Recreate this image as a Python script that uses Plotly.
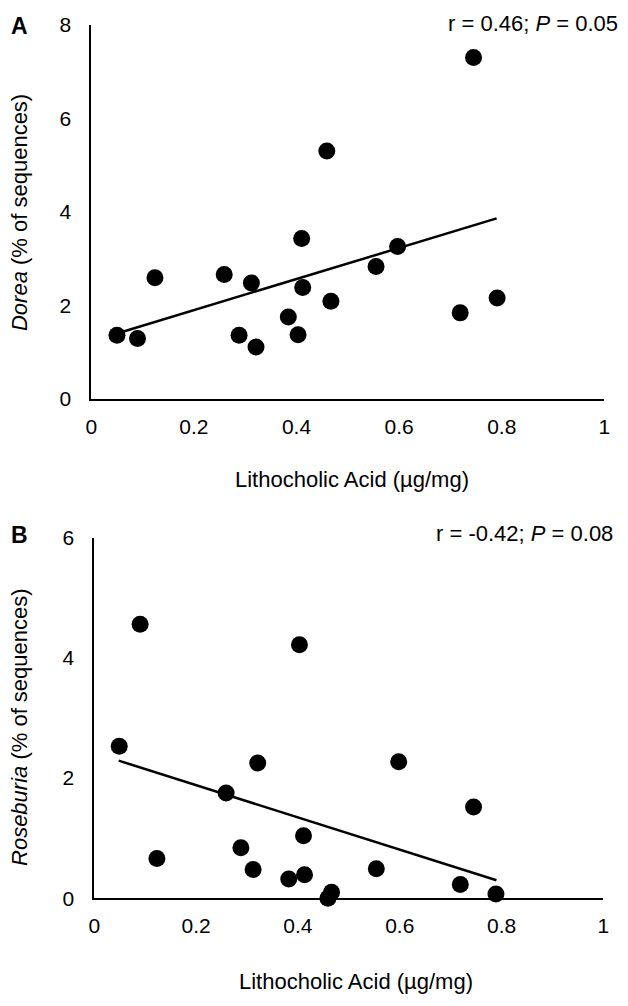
import plotly.graph_objects as go

# Shared x values (Lithocholic acid, µg/mg)
lca = [0.050, 0.090, 0.124, 0.259, 0.288, 0.312, 0.321, 0.384, 0.403,
       0.410, 0.412, 0.459, 0.467, 0.555, 0.597, 0.719, 0.745, 0.791]
# Panel A: Dorea (% of sequences)
dorea = [1.36, 1.29, 2.59, 2.66, 1.36, 2.48, 1.11, 1.75, 1.37,
         3.43, 2.38, 5.30, 2.09, 2.83, 3.26, 1.84, 7.30, 2.16]
# Panel B: Roseburia (% of sequences)
lca_b = [0.049, 0.090, 0.123, 0.259, 0.288, 0.312, 0.321, 0.382, 0.403,
         0.411, 0.413, 0.459, 0.466, 0.554, 0.598, 0.719, 0.745, 0.789]
roseburia = [2.53, 4.56, 0.66, 1.75, 0.84, 0.48, 2.25, 0.32, 4.22,
             1.04, 0.39, 0.00, 0.10, 0.49, 2.27, 0.23, 1.52, 0.07]
# Trend lines
trend_a_x = [0.05, 0.79]
trend_a_y = [1.40, 3.86]
trend_b_x = [0.048, 0.79]
trend_b_y = [2.29, 0.30]

x_ticks = [0, 0.2, 0.4, 0.6, 0.8, 1]
x_ticktext = ["0", "0.2", "0.4", "0.6", "0.8", "1"]
y_ticks_a = [0, 2, 4, 6, 8]
y_ticks_b = [0, 2, 4, 6]

W, H = 628, 1006
FONT = "Liberation Sans, Arial, sans-serif"
FS_TICK = 21
FS = 22

fig = go.Figure()
fig.add_trace(go.Scatter(x=trend_a_x, y=trend_a_y, mode="lines",
                         line=dict(color="black", width=2.5), xaxis="x", yaxis="y",
                         showlegend=False, cliponaxis=False))
fig.add_trace(go.Scatter(x=lca, y=dorea, mode="markers",
                         marker=dict(color="black", size=17), xaxis="x", yaxis="y",
                         showlegend=False, cliponaxis=False))
fig.add_trace(go.Scatter(x=trend_b_x, y=trend_b_y, mode="lines",
                         line=dict(color="black", width=2.5), xaxis="x2", yaxis="y2",
                         showlegend=False, cliponaxis=False))
fig.add_trace(go.Scatter(x=lca_b, y=roseburia, mode="markers",
                         marker=dict(color="black", size=17), xaxis="x2", yaxis="y2",
                         showlegend=False, cliponaxis=False))

def px_x(v):
    return v / W

def px_y(v):
    return 1 - v / H

xcommon = dict(range=[0, 1], tickvals=x_ticks, ticktext=x_ticktext, showgrid=False,
               zeroline=False, showline=True, linecolor="black", linewidth=2,
               ticks="", ticklabelstandoff=8, tickfont=dict(size=FS_TICK, color="black"))
ycommon = dict(showgrid=False, zeroline=False, showline=True, linecolor="black",
               linewidth=2, ticks="", ticklabelstandoff=14,
               tickfont=dict(size=FS_TICK, color="black"))

fig.update_layout(
    width=W, height=H, autosize=False,
    margin=dict(l=0, r=0, t=0, b=0),
    paper_bgcolor="white", plot_bgcolor="white",
    font=dict(family=FONT, size=FS, color="black"),
    xaxis=dict(domain=[px_x(87), px_x(610)], anchor="y", **xcommon),
    yaxis=dict(domain=[px_y(396), px_y(13)], anchor="x", range=[0, 8],
               tickvals=y_ticks_a, **ycommon),
    xaxis2=dict(domain=[px_x(90), px_x(609)], anchor="y2", **xcommon),
    yaxis2=dict(domain=[px_y(907), px_y(538)], anchor="x2", range=[0, 6],
                tickvals=y_ticks_b, **ycommon),
    showlegend=False,
)

ann = []
def add(text, x, y, xanchor="center", yanchor="middle", angle=0, size=FS, bold=False):
    if bold:
        text = "<b>" + text + "</b>"
    ann.append(dict(text=text, x=px_x(x), y=px_y(y), xref="paper", yref="paper",
                    xanchor=xanchor, yanchor=yanchor, textangle=angle, showarrow=False,
                    font=dict(size=size, family=FONT, color="black")))

add("A", 14, 14, size=23, bold=True)
add("B", 14, 535, size=23, bold=True)
add("r = 0.46; <i>P</i> = 0.05", 626, 12, xanchor="right")
add("r = -0.42; <i>P</i> = 0.08", 621, 534, xanchor="right")
add("Lithocholic Acid (µg/mg)", 353, 478)
add("Lithocholic Acid (µg/mg)", 357, 992)
add("<i>Dorea</i> (% of sequences)", 14, 205, angle=-90)
add("<i>Roseburia</i> (% of sequences)", 14, 732, angle=-90)
fig.update_layout(annotations=ann)

fig.write_html("out.html",
               config={"displayModeBar": False},
               post_script="document.body.style.margin='0px';document.body.style.overflow='hidden';")
